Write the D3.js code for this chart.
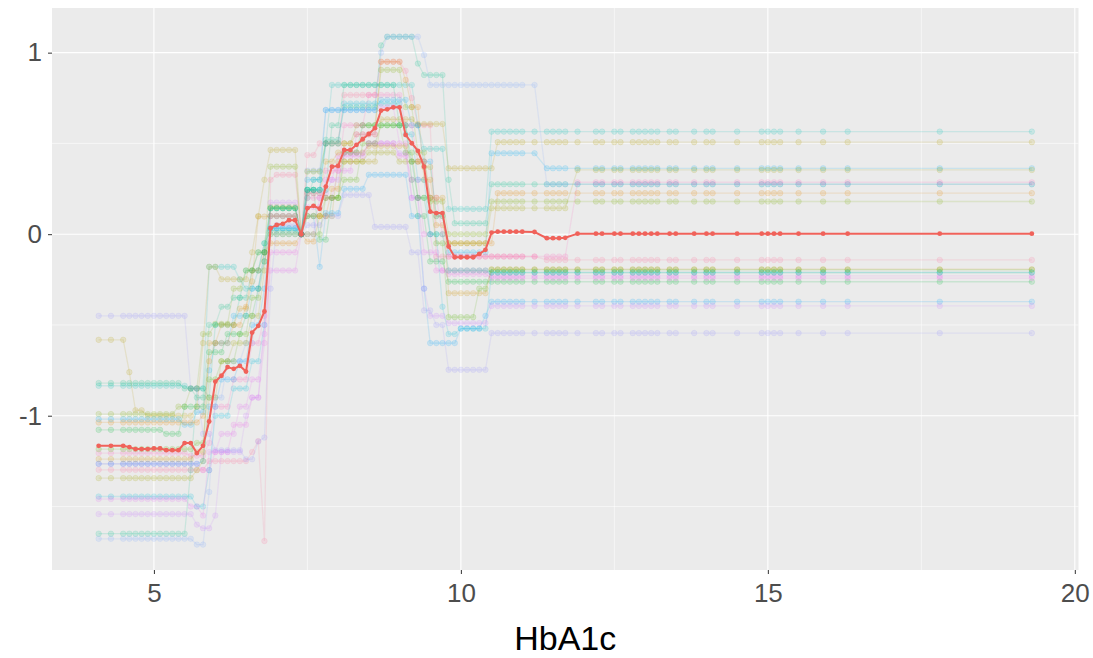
<!DOCTYPE html>
<html><head><meta charset="utf-8">
<script src="https://cdn.jsdelivr.net/npm/d3@7"></script>
<style>body{margin:0;background:#fff}svg{display:block}</style>
</head><body><svg id="c" width="1093" height="658"></svg>
<script>
// grid of HbA1c values where curves are evaluated
const xGrid = [4.1,4.3,4.5,4.6,4.7,4.8,4.9,5.0,5.1,5.2,5.3,5.4,5.5,5.6,5.7,5.8,5.9,6.0,6.1,6.2,6.3,6.4,6.5,6.6,6.7,6.8,6.9,7.0,7.1,7.2,7.3,7.4,7.5,7.6,7.7,7.8,7.9,8.0,8.1,8.2,8.3,8.4,8.5,8.6,8.7,8.8,8.9,9.0,9.1,9.2,9.3,9.4,9.5,9.6,9.7,9.8,9.9,10.0,10.1,10.2,10.3,10.4,10.5,10.6,10.7,10.8,10.9,11.0,11.2,11.4,11.5,11.6,11.7,11.9,12.2,12.3,12.5,12.6,12.8,12.9,13.0,13.1,13.2,13.4,13.5,13.8,14.0,14.1,14.5,14.9,15.0,15.1,15.2,15.5,15.9,16.3,17.8,19.3];
// average curve (red), one value per grid point
const meanY = [-1.166,-1.166,-1.166,-1.173,-1.184,-1.184,-1.184,-1.18,-1.18,-1.19,-1.19,-1.19,-1.151,-1.151,-1.206,-1.166,-1.032,-0.812,-0.78,-0.732,-0.742,-0.725,-0.757,-0.542,-0.505,-0.426,0.033,0.051,0.057,0.077,0.077,0.0,0.143,0.156,0.14,0.262,0.372,0.376,0.464,0.464,0.492,0.523,0.552,0.584,0.681,0.688,0.699,0.699,0.547,0.501,0.459,0.372,0.124,0.116,0.116,-0.068,-0.127,-0.127,-0.127,-0.127,-0.108,-0.086,0.009,0.014,0.014,0.014,0.014,0.014,0.012,-0.022,-0.022,-0.022,-0.02,0.003,0.003,0.003,0.003,0.003,0.003,0.003,0.003,0.003,0.003,0.003,0.003,0.003,0.003,0.003,0.003,0.003,0.003,0.003,0.003,0.003,0.003,0.003,0.003,0.003];
// individual curves: [x from which value holds, value]
const curve01 = [[4.1,-0.835],[5.6,-0.85],[5.9,-0.18],[6.4,-0.25],[6.5,-0.3],[6.7,-0.2],[6.8,-0.05],[6.9,0.143],[7.4,0],[7.5,0.244],[7.8,0.5],[7.9,0.822],[9.3,0.6],[9.4,0.47],[9.8,0.139],[10.5,0.565]];
const curve02 = [[4.1,-1.65],[5.6,-1.3],[5.7,-0.85],[5.9,-0.9],[6.0,-0.5],[6.4,-0.35],[6.6,-0.2],[6.8,-0.05],[6.9,0.02],[7.4,0],[7.5,0.2],[7.6,0.3],[7.8,0.52],[8.1,0.7],[8.7,1.04],[8.8,1.088],[9.3,0.94],[9.4,0.877],[9.8,0.3],[9.9,0.06],[10.5,0.275]];
const curve03 = [[4.1,-1.678],[5.7,-1.71],[5.9,-1.42],[6.0,-0.9],[6.2,-0.7],[6.5,-0.6],[6.7,-0.3],[6.8,-0.1],[6.9,0.0],[7.4,0],[7.5,0.35],[7.8,0.684],[8.7,1.0],[8.8,1.088],[9.4,0.987],[9.5,0.822],[11.4,0.275]];
const curve04 = [[4.1,-1.298],[5.9,-1.25],[6.6,-1.2],[6.7,-1.14],[6.8,-1.69],[6.9,0.3],[7.0,0.327],[7.4,0],[7.5,0.436],[7.7,0.5],[8.1,0.767],[8.7,0.95],[9.1,0.9],[9.2,0.75],[9.3,0.6],[9.6,-0.123],[11.4,-0.142]];
const curve05 = [[4.1,-0.582],[4.6,-0.76],[4.7,-0.97],[4.9,-1.0],[5.7,-0.95],[5.8,-0.6],[5.9,-0.18],[6.1,-0.248],[6.6,-0.1],[6.7,0.1],[6.8,0.3],[6.9,0.464],[7.4,0],[7.5,0.1],[8.0,0.4],[8.7,0.633],[9.3,0.607],[9.8,0.363],[10.6,0.507]];
const curve06 = [[4.1,-0.991],[5.4,-0.95],[5.6,-0.85],[5.8,-0.55],[6.0,-0.494],[6.3,-0.3],[6.5,-0.2],[6.7,-0.1],[6.9,0.372],[7.4,0],[7.5,0.345],[7.8,0.5],[8.3,0.6],[8.7,0.905],[9.1,0.7],[9.3,0.45],[9.5,0.18],[9.8,0.0],[10.5,0.18]];
const curve07 = [[4.1,-1.019],[5.5,-1.05],[5.7,-0.98],[5.9,-0.75],[6.0,-0.6],[6.3,-0.45],[6.6,-0.3],[6.8,-0.15],[6.9,0.1],[7.4,0],[7.5,0.3],[7.8,0.684],[8.7,0.74],[9.2,0.6],[9.4,0.4],[9.6,0.1],[9.8,-0.1],[10.5,0.446],[11.4,0.363]];
const curve08 = [[4.1,-1.037],[5.8,-1.0],[5.9,-0.7],[6.0,-0.6],[6.3,-0.5],[6.5,-0.4],[6.6,-0.2],[6.8,-0.1],[6.9,-0.05],[7.4,0],[7.5,-0.04],[7.7,0.1],[7.9,0.25],[8.1,0.5],[8.3,0.55],[8.7,0.95],[9.1,0.85],[9.2,0.7],[9.4,0.3],[9.6,0.05],[9.8,-0.05],[10.6,0.226]];
const curve09 = [[4.1,-1.078],[5.2,-1.1],[5.5,-0.95],[5.9,-0.65],[6.2,-0.55],[6.5,-0.45],[6.7,-0.3],[6.8,-0.1],[6.9,0.143],[7.4,0],[7.5,0.244],[7.7,-0.03],[7.9,0.2],[8.1,0.45],[8.4,0.6],[9.2,0.3],[9.3,0.1],[9.5,-0.15],[9.8,-0.262]];
const curve10 = [[4.1,-1.206],[5.6,-1.22],[5.9,-1.15],[6.0,-0.95],[6.3,-0.8],[6.6,-0.6],[6.8,-0.45],[6.9,0.1],[7.4,0],[7.5,0.2],[7.8,0.35],[8.1,0.6],[8.5,0.767],[9.1,0.6],[9.3,0.4],[9.5,0.2],[9.7,0.0],[9.8,-0.123],[11.9,0.286]];
const curve11 = [[4.1,-1.265],[5.8,-1.3],[6.0,-1.2],[6.3,-1.05],[6.6,-0.9],[6.8,-0.6],[6.9,-0.1],[7.4,0],[7.5,0.15],[7.8,0.3],[8.0,0.43],[8.5,0.5],[9.0,0.43],[9.2,0.3],[9.4,0.0],[9.6,-0.2],[9.8,-0.22],[10.5,-0.242]];
const curve12 = [[4.1,-1.239],[5.7,-1.2],[5.9,-0.6],[6.1,-0.5],[6.4,-0.41],[6.6,-0.26],[6.7,0.097],[6.9,0.1],[7.4,0],[7.5,0.226],[7.8,0.4],[8.0,0.45],[8.5,0.486],[9.2,0.4],[9.5,0.2],[9.8,-0.325],[10.5,-0.193]];
const curve13 = [[4.1,-1.265],[5.8,-1.25],[5.9,-0.95],[6.1,-0.8],[6.4,-0.7],[6.6,-0.5],[6.8,-0.3],[6.9,0.033],[7.4,0],[7.5,0.1],[7.7,-0.18],[7.8,0.116],[8.1,0.25],[8.5,0.327],[9.2,0.1],[9.4,-0.3],[9.5,-0.6],[10.0,-0.52],[10.4,-0.45],[10.5,-0.372]];
const curve14 = [[4.1,-1.344],[5.7,-1.3],[5.8,-1.25],[5.9,-0.9],[6.1,-0.7],[6.3,-0.6],[6.6,-0.45],[6.8,-0.2],[6.9,0.15],[7.4,0],[7.5,0.1],[7.8,0.2],[8.1,0.4],[8.5,0.45],[9.0,0.4],[9.4,0.37],[9.6,0.1],[9.8,-0.05],[10.5,0.143],[11.9,0.354]];
const curve15 = [[4.1,-1.445],[5.7,-1.5],[5.9,-1.3],[6.0,-1.0],[6.3,-0.85],[6.6,-0.7],[6.8,-0.5],[6.9,0.033],[7.4,0],[7.5,0.244],[7.8,0.5],[8.1,0.72],[9.1,0.55],[9.3,0.3],[9.5,0.0],[9.7,-0.4],[9.8,-0.55],[10.0,-0.52],[10.5,-0.211]];
const curve16 = [[4.1,-1.459],[5.6,-1.5],[5.8,-1.55],[5.9,-1.2],[6.1,-1.1],[6.4,-0.95],[6.6,-0.8],[6.8,-0.55],[6.9,-0.2],[7.4,0],[7.5,0.0],[7.7,0.2],[8.0,0.35],[8.3,0.55],[8.7,0.7],[9.0,0.5],[9.2,0.2],[9.4,-0.1],[9.7,-0.2],[10.5,-0.23]];
const curve17 = [[4.1,-1.542],[5.7,-1.6],[5.8,-1.62],[6.0,-1.55],[6.1,-1.2],[6.5,-1.0],[6.6,-0.9],[6.8,-0.5],[6.9,0.174],[7.4,0],[7.5,0.226],[7.9,0.3],[8.1,0.446],[8.5,0.5],[9.0,0.446],[9.2,0.2],[9.4,-0.3],[9.5,-0.45],[9.8,-0.49],[10.5,-0.395]];
const curve18 = [[4.1,-0.45],[5.6,-0.85],[5.8,-1.1],[6.0,-1.19],[6.5,-1.24],[6.7,-1.142],[6.8,-1.12],[6.9,-0.3],[7.0,0.05],[7.4,0],[7.5,0.05],[7.8,0.1],[8.1,0.216],[8.6,0.04],[9.2,-0.1],[9.4,-0.42],[9.6,-0.5],[9.8,-0.747],[10.5,-0.545]];
const curve19 = [[4.1,-0.82],[5.5,-0.85],[5.7,-0.9],[5.9,-0.5],[6.1,-0.4],[6.3,-0.35],[6.5,-0.2],[6.7,-0.1],[6.9,0.143],[7.4,0],[7.5,0.244],[7.9,0.6],[8.1,0.822],[9.0,0.6],[9.2,0.4],[9.3,0.2],[9.5,0.0],[9.8,-0.2],[10.5,-0.211]];
const curve20 = [[4.1,-1.184],[5.7,-1.15],[5.9,-0.8],[6.1,-0.7],[6.4,-0.55],[6.6,-0.35],[6.8,-0.15],[6.9,0.0],[7.4,0],[7.5,0.0],[7.8,0.2],[8.1,0.3],[8.4,0.5],[8.7,0.6],[9.1,0.45],[9.3,0.2],[9.6,-0.05],[9.8,-0.457],[10.3,-0.3],[10.5,-0.196]];
const curves = [curve01,curve02,curve03,curve04,curve05,curve06,curve07,curve08,curve09,curve10,curve11,curve12,curve13,curve14,curve15,curve16,curve17,curve18,curve19,curve20];
const curveColors = ["#00C0B8","#00C08B","#7AA6FF","#FF6A98","#B79F00","#7CAE00","#00B0F6","#E38900","#00BA38","#FF62BC","#F066EA","#D39200","#00A5FF","#A3A500","#00BBDB","#E76BF3","#C77CFF","#9590FF","#00BF7D","#53B400"];
const xTicks = [5,10,15,20];
const yTicks = [-1,0,1];
const xTitle = "HbA1c";

const svg = d3.select("#c");
const P = {l:52, r:1078.5, t:8, b:570};
const x = d3.scaleLinear().domain([3.34,20.06]).range([P.l,P.r]);
const y = d3.scaleLinear().domain([-1.85,1.246]).range([P.b,P.t]);

svg.append("rect").attr("x",P.l).attr("y",P.t).attr("width",P.r-P.l).attr("height",P.b-P.t).attr("fill","#EBEBEB");
const g = svg.append("g");
const xMinor = [7.5,12.5,17.5], yMinor = [-1.5,-0.5,0.5];
xMinor.forEach(v=>g.append("line").attr("x1",x(v)).attr("x2",x(v)).attr("y1",P.t).attr("y2",P.b).attr("stroke","#fff").attr("stroke-width",0.55));
yMinor.forEach(v=>g.append("line").attr("y1",y(v)).attr("y2",y(v)).attr("x1",P.l).attr("x2",P.r).attr("stroke","#fff").attr("stroke-width",0.55));
xTicks.forEach(v=>g.append("line").attr("x1",x(v)).attr("x2",x(v)).attr("y1",P.t).attr("y2",P.b).attr("stroke","#fff").attr("stroke-width",1.1));
yTicks.forEach(v=>g.append("line").attr("y1",y(v)).attr("y2",y(v)).attr("x1",P.l).attr("x2",P.r).attr("stroke","#fff").attr("stroke-width",1.1));

function expand(steps){
  return xGrid.map(gx=>{
    let v = steps[0][1];
    for(const s of steps){ if(s[0] <= gx+1e-9) v = s[1]; }
    return [gx,v];
  });
}
const line = d3.line().x(d=>x(d[0])).y(d=>y(d[1]));
curves.forEach((c,i)=>{
  const pts = expand(c);
  const col = curveColors[i];
  g.append("path").attr("d",line(pts)).attr("fill","none").attr("stroke",col).attr("stroke-opacity",0.14).attr("stroke-width",1.3);
  g.selectAll(null).data(pts).enter().append("circle").attr("cx",d=>x(d[0])).attr("cy",d=>y(d[1])).attr("r",2.8)
    .attr("fill",col).attr("fill-opacity",0.15).attr("stroke",col).attr("stroke-opacity",0.14).attr("stroke-width",0.8);
});
const meanPts = xGrid.map((gx,i)=>[gx,meanY[i]]);
g.append("path").attr("d",line(meanPts)).attr("fill","none").attr("stroke","#F0625A").attr("stroke-width",2);
g.selectAll(null).data(meanPts).enter().append("circle").attr("cx",d=>x(d[0])).attr("cy",d=>y(d[1])).attr("r",2.4).attr("fill","#F0625A");

// axes
const xa = svg.append("g").attr("transform",`translate(0,${P.b})`).call(d3.axisBottom(x).tickValues(xTicks).tickSize(4).tickPadding(10));
const ya = svg.append("g").attr("transform",`translate(${P.l},0)`).call(d3.axisLeft(y).tickValues(yTicks).tickSize(4).tickPadding(6).tickFormat(d3.format("d")));
[xa,ya].forEach(a=>{a.select(".domain").remove();a.selectAll(".tick line").attr("stroke","#333").attr("stroke-width",1);
  a.selectAll("text").attr("fill","#4D4D4D").style("font-family","'Liberation Sans',Arial,sans-serif").style("font-size","26px");});
ya.selectAll("text").text(d=>d<0?"-"+Math.abs(d):d);
svg.append("text").attr("x",(P.l+P.r)/2).attr("y",650).attr("text-anchor","middle")
  .style("font-family","'Liberation Sans',Arial,sans-serif").style("font-size","34px").attr("fill","#000").text(xTitle);
</script></body></html>
